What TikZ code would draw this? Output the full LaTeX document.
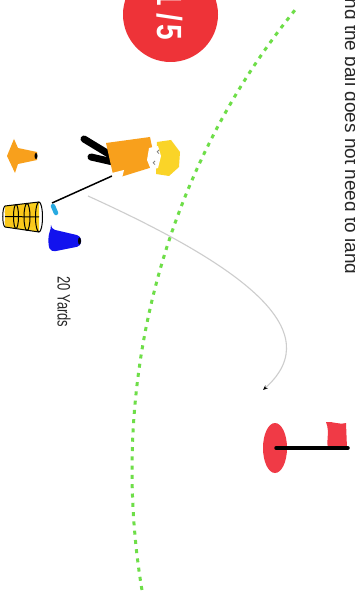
\documentclass[tikz,border=0pt]{standalone}
\usepackage{fontspec}
\setmainfont{Liberation Sans}
\newfontfamily\narrowsans[FakeStretch=0.8]{Liberation Sans}
\newfontfamily\labelsans[FakeStretch=0.72]{Liberation Sans}
\usetikzlibrary{arrows.meta}
\definecolor{badgered}{RGB}{238,51,56}
\definecolor{flagred}{RGB}{240,58,70}
\definecolor{coneorange}{RGB}{248,160,28}
\definecolor{coneblue}{RGB}{18,18,238}
\definecolor{clubcyan}{RGB}{40,170,225}
\definecolor{ballyellow}{RGB}{250,208,30}
\definecolor{hairyellow}{RGB}{250,212,40}
\definecolor{fieldgreen}{RGB}{110,222,72}
\definecolor{pathgray}{RGB}{205,205,205}
\definecolor{inkgray}{RGB}{40,40,40}
\begin{document}
\begin{tikzpicture}[x=1pt,y=-1pt,
  rottext/.style={rotate=-90,inner sep=0pt,text=inkgray},
  zone/.style={fieldgreen,line width=3pt,dash pattern=on 4pt off 5.3pt},
  shot/.style={pathgray,line width=1.1pt},
  leg/.style={black,line width=7pt,line cap=round},
  cage/.style={black,line width=1pt}]
\useasboundingbox (0,0) rectangle (355,593);
\fill[white] (0,0) rectangle (355,593);

% boundary of the target zone
\draw[zone] plot[domain=219:170.4,samples=90]
  ({862.6+730.6*cos(\x)},{470+730.6*sin(\x)});

% drill counter badge
\fill[badgered] (170.5,14.5) circle[radius=47.5pt];
\node[rottext,text=white,font=\narrowsans\bfseries\fontsize{35}{35}\selectfont] (badge)
  at (169.5,15.5) {1\hspace{7pt}/\hspace{3.5pt}5};

% instruction line
\node[rottext,anchor=base west,font=\fontsize{19}{19}\selectfont] (note) at (345,-12)
  {and the ball does not need to land};

% distance label
\node[rottext,font=\labelsans\fontsize{18}{18}\selectfont] (yards) at (64,302) {20 Yards};

% ball flight
\coordinate (launch) at (88,196);
\coordinate (landing) at (263,390);
\draw[shot,-{Stealth[length=5pt,width=4pt,black]}] (launch)
  .. controls (240,265) and (330,330) .. (landing);

% hole and flag
\fill[flagred] (275,448) ellipse[x radius=12pt,y radius=25pt];
\fill[flagred] (326,422) .. controls (330,432) and (326,440) .. (328,448)
  -- (347,448) -- (346,423) .. controls (338,425) and (332,421) .. cycle;
\draw[black,line width=3.5pt,line cap=round] (276,448) -- (348,448);

% orange cone
\fill[coneorange] (7,156) -- (14,139) -- (18,148) -- (37,152) -- (37,160)
  -- (18,164) -- (15,173) -- cycle;
\fill[black] (36,156) ellipse[x radius=1.5pt,y radius=3pt];

% blue cone
\fill[coneblue,rounded corners=4pt] (51,229) -- (81,236) -- (81,246) -- (51,252)
  .. controls (48,245) and (48,236) .. cycle;
\fill[black] (79.5,241) ellipse[x radius=1.5pt,y radius=3.5pt];

% ball basket
\fill[ballyellow] (5,206) -- (39,202) -- (39,232) -- (5,227) -- cycle;
\foreach \bx/\by in {10/212,10/222,21/210,21/222,31/212,31/222}
  \fill[ballyellow!90!orange] (\bx,\by) circle[radius=5.5pt];
\draw[cage] (5,206) .. controls (2,208) and (2,225) .. (5,227);
\draw[cage] (5,206) -- (39,202);
\draw[cage] (5,227) -- (39,232);
\draw[cage] (39,217) ellipse[x radius=3.5pt,y radius=15pt];
\draw[cage] (16,216.5) ellipse[x radius=2.5pt,y radius=12pt];
\draw[cage] (27,217) ellipse[x radius=3pt,y radius=13.5pt];
\draw[cage] (5,216.5) -- (39,217);

% golfer: legs, club, body, head
\draw[leg] (84,139) -- (112,156);
\draw[leg] (91,157) -- (113,162);
\draw[black,line width=1.5pt] (112,176) -- (52,203);
\draw[clubcyan,line width=4.5pt,line cap=round] (53,206) -- (56,213);
\fill[coneorange] (106,143) -- (150,137) -- (156,166) -- (114,179) -- cycle;
\fill[white] (112,173) -- (124,170) -- (122,178) -- (113,180) -- cycle;
\fill[hairyellow] (157,142) -- (171,140) -- (180,152) -- (179,167)
  -- (169,176) -- (156,174) -- cycle;
\fill[white] (149,148) -- (158,146) -- (161,156) -- (158,168) -- (151,170)
  -- (147,160) -- cycle;
\draw[gray,line width=0.8pt] (159,150) arc[start angle=90,end angle=270,radius=1.8pt];
\draw[gray,line width=0.8pt] (155,161) arc[start angle=90,end angle=270,radius=1.8pt];
\end{tikzpicture}
\end{document}
